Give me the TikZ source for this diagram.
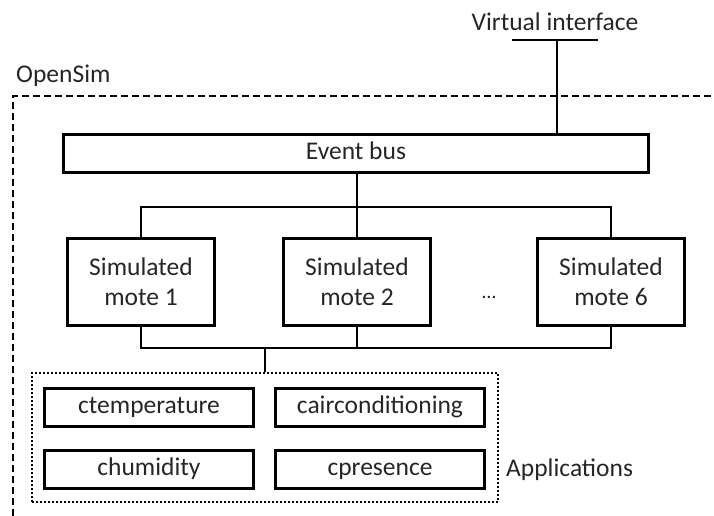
\documentclass[tikz,border=0pt]{standalone}
\usepackage{fontspec}
\setmainfont{Carlito}
\begin{document}
\begin{tikzpicture}[x=1pt,y=-1pt,
  every node/.style={font=\fontsize{25.5}{30}\selectfont, text=black!85, inner sep=0pt},
  thickbox/.style={draw, line width=3pt, align=center},
  conn/.style={line width=2pt},
  oneline/.style={text height=17pt, text depth=5pt},
  motebox/.style={thickbox, minimum width=147pt, minimum height=87pt},
  appbox/.style={thickbox, oneline, minimum width=209pt, minimum height=38pt}]
\useasboundingbox (0,0) rectangle (714,516);

% OpenSim boundary (open to the right and below)
\node[anchor=west, oneline] (opensim) at (16,77) {OpenSim};
\draw[line width=2pt, dash pattern=on 7pt off 4pt] (13,516) -- (13,96) -- (714,96);

% Virtual interface
\node[oneline] (vi) at (555,25) {Virtual interface};
\coordinate (vibar) at (557,40);
\draw[conn] (512,40) -- (598,40);

% Event bus
\node[thickbox, oneline, minimum width=585pt, minimum height=38pt] (bus) at (356,153.5) {Event bus};
\draw[conn] (vibar) -- (vibar |- bus.north);

% Simulated motes
\node[motebox] (m1) at (141,282) {Simulated\\mote 1};
\node[motebox] (m2) at (357,282) {Simulated\\mote 2};
\node[motebox] (m6) at (611,282) {Simulated\\mote 6};
\node[anchor=base, font=\fontsize{20}{24}\selectfont] (dots) at (489,298) {\ldots};

\coordinate (tb) at (357,207);
\draw[conn] (bus.south -| m2) -- (m2.north);
\draw[conn] (m1.north) |- (tb) -| (m6.north);

\coordinate (bb) at (265,348);
\draw[conn] (m1.south) |- (bb) -| (m6.south);
\draw[conn] (m2.south) -- (m2.south |- bb);

% Applications
\node[draw, line width=2pt, dash pattern=on 2pt off 2pt, minimum width=466pt, minimum height=129pt] (apps) at (265,437.5) {};
\draw[conn] (bb) -- (apps.north -| bb);
\node[anchor=west, oneline] (appslabel) at (506,470) {Applications};

\node[appbox] (ctemp) at (149,407.5) {ctemperature};
\node[appbox] (cair) at (380,407.5) {cairconditioning};
\node[appbox] (chum) at (149,469.5) {chumidity};
\node[appbox] (cpres) at (380,469.5) {cpresence};
\end{tikzpicture}
\end{document}
